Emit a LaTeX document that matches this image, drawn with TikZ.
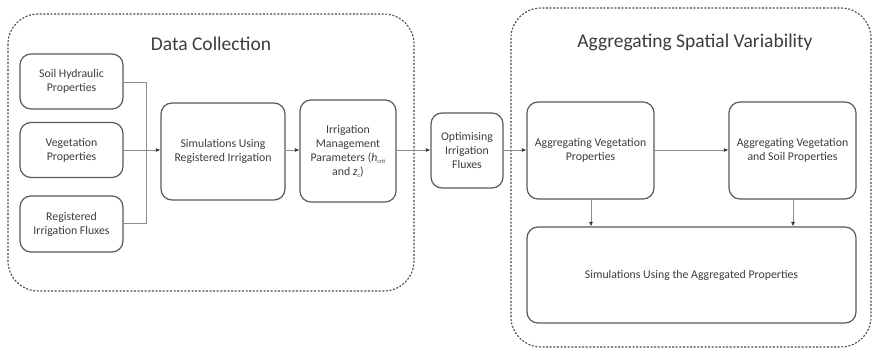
\documentclass[tikz,border=0pt]{standalone}
\usepackage{fontspec}
\setmainfont{Carlito}
\usetikzlibrary{arrows.meta}
\definecolor{boxline}{HTML}{595959}
\definecolor{txt}{HTML}{3C3C3C}
\definecolor{wire}{HTML}{8C8C8C}
\definecolor{frame}{HTML}{4A4A4A}
\tikzset{
  stepbox/.style={draw=boxline, line width=1.2pt, rounded corners=11pt, text=txt,
    font=\fontsize{11.8}{14}\selectfont, align=center, inner sep=0pt},
  group/.style={draw=frame, line width=1.1pt, dash pattern=on 2pt off 1.6pt, rounded corners=30pt},
  heading/.style={text=txt, font=\fontsize{19.5}{22}\selectfont},
  wireline/.style={draw=wire, line width=0.7pt},
  flow/.style={wireline, -{Latex[length=4.5pt,width=4pt,color=black!80]}},
}
\begin{document}
\begin{tikzpicture}[x=1pt,y=-1pt]
\useasboundingbox (0,0) rectangle (873,352);

% dashed group frames
\draw[group] (8,14) rectangle (414,291);
\draw[group] (511,8) rectangle (871,347);
\node[heading] (t1) at (211,44) {Data Collection};
\node[heading] (t2) at (695,42) {Aggregating Spatial Variability};

% data collection inputs
\node[stepbox, minimum width=103pt, minimum height=55pt] (soil) at (71.5,81.5) {Soil Hydraulic\\Properties};
\node[stepbox, minimum width=103pt, minimum height=55pt] (veg) at (71.5,150) {Vegetation\\Properties};
\node[stepbox, minimum width=103pt, minimum height=56pt] (reg) at (71.5,224) {Registered\\Irrigation Fluxes};

\node[stepbox, minimum width=124pt, minimum height=97pt] (sim) at (223,151.5) {Simulations Using\\Registered Irrigation};
\node[stepbox, minimum width=96pt, minimum height=102pt] (imp) at (348,151) {Irrigation\\Management\\Parameters (\textit{h}{\fontsize{6}{6}\selectfont\raisebox{-2pt}{crit}}\\and \textit{z}{\fontsize{6}{6}\selectfont\raisebox{-2pt}{c}})};
\node[stepbox, minimum width=72pt, minimum height=75pt] (opt) at (467,150.5) {Optimising\\Irrigation\\Fluxes};

% aggregation stage
\node[stepbox, minimum width=127pt, minimum height=97pt] (aveg) at (590.5,150.5) {Aggregating Vegetation\\Properties};
\node[stepbox, minimum width=127pt, minimum height=97pt] (asoil) at (792.5,150.5) {Aggregating Vegetation\\and Soil Properties};
\node[stepbox, minimum width=329pt, minimum height=96pt] (asim) at (691.5,275) {Simulations Using the Aggregated Properties};

% bracket joining the three inputs
\coordinate (join) at (146,150);
\draw[wireline] (soil.east |- 0,82) -| (join);
\draw[wireline] (reg.east |- 0,223) -| (join);
\draw[wireline] (veg.east) -- (join);
\draw[flow] (join) -- (sim.west |- join);

% main flow
\draw[flow] (sim.east |- 0,150) -- (imp.west |- 0,150);
\draw[flow] (imp.east |- 0,150) -- (opt.west |- 0,150);
\draw[flow] (opt.east |- 0,150) -- (aveg.west |- 0,150);
\draw[flow] (aveg.east |- 0,150) -- (asoil.west |- 0,150);
\draw[flow] (aveg.south -| 591,0) -- (asim.north -| 591,0);
\draw[flow] (asoil.south -| 793,0) -- (asim.north -| 793,0);
\end{tikzpicture}
\end{document}
